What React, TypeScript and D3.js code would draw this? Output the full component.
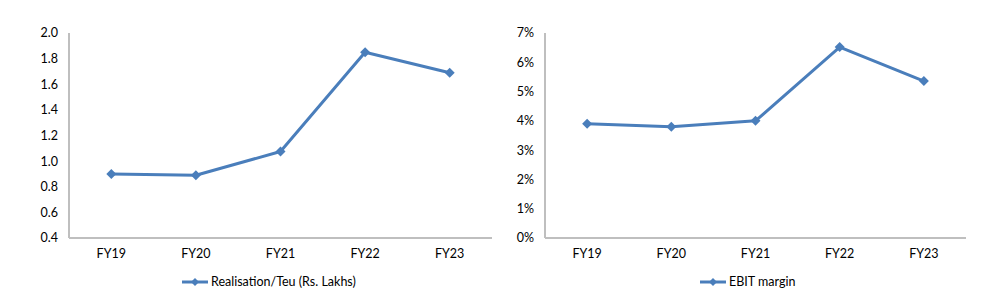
import React from "react";
import * as d3 from "d3";

const categories = ["FY19", "FY20", "FY21", "FY22", "FY23"];
const realisation = [0.9, 0.89, 1.075, 1.85, 1.69];
const ebitMargin = [0.039, 0.038, 0.04, 0.0652, 0.0536];
const leftTicks = [0.4, 0.6, 0.8, 1.0, 1.2, 1.4, 1.6, 1.8, 2.0];
const rightTicks = [0, 0.01, 0.02, 0.03, 0.04, 0.05, 0.06, 0.07];

const FONT = "Lato, 'Open Sans', sans-serif";
const FS = 12.5;
const LINE = "#4a7ebb";
const AXIS = "#bfbfbf";

type PanelProps = {
  x0: number;
  x1: number;
  values: number[];
  ticks: number[];
  domain: [number, number];
  fmt: (v: number) => string;
  legend: string;
  legendX: number;
};

function Panel({ x0, x1, values, ticks, domain, fmt, legend, legendX }: PanelProps) {
  const top = 33;
  const bottom = 238;
  const x = d3.scaleBand<string>().domain(categories).range([x0, x1]);
  const y = d3.scaleLinear().domain(domain).range([bottom, top]);
  const line = d3
    .line<number>()
    .x((_, i) => (x(categories[i]) as number) + x.bandwidth() / 2)
    .y((d) => y(d));
  const diamond = (cx: number, cy: number, r: number) =>
    `M${cx},${cy - r}L${cx + r},${cy}L${cx},${cy + r}L${cx - r},${cy}Z`;
  return (
    <g>
      <line x1={x0} x2={x0} y1={top} y2={bottom} stroke={AXIS} strokeWidth={2} />
      <line x1={x0} x2={x1} y1={bottom} y2={bottom} stroke={AXIS} strokeWidth={2} />
      {ticks.map((t) => (
        <text
          key={t}
          x={x0 - 11}
          y={y(t)}
          dy="0.35em"
          textAnchor="end"
          fontSize={FS}
          fontFamily={FONT}
          fill="#000"
        >
          {fmt(t)}
        </text>
      ))}
      {categories.map((c) => (
        <text
          key={c}
          x={(x(c) as number) + x.bandwidth() / 2}
          y={254}
          dy="0.35em"
          textAnchor="middle"
          fontSize={FS}
          fontFamily={FONT}
          fill="#000"
        >
          {c}
        </text>
      ))}
      <path d={line(values) || ""} fill="none" stroke={LINE} strokeWidth={3} strokeLinejoin="round" />
      {values.map((v, i) => (
        <path
          key={i}
          d={diamond((x(categories[i]) as number) + x.bandwidth() / 2, y(v), 5)}
          fill={LINE}
        />
      ))}
      <line x1={legendX} x2={legendX + 26} y1={282} y2={282} stroke={LINE} strokeWidth={3} />
      <path d={diamond(legendX + 13, 282, 4)} fill={LINE} />
      <text x={legendX + 29} y={282} dy="0.35em" fontSize={FS} fontFamily={FONT} fill="#000">
        {legend}
      </text>
    </g>
  );
}

export default function App() {
  return (
    <svg
      width={1007}
      height={302}
      style={{ position: "absolute", left: 0, top: 0, background: "#fff" }}
    >
      <rect width={1007} height={302} fill="#fff" />
      <Panel
        x0={69}
        x1={492}
        values={realisation}
        ticks={leftTicks}
        domain={[0.4, 2.0]}
        fmt={(v) => v.toFixed(1)}
        legend="Realisation/Teu (Rs. Lakhs)"
        legendX={182}
      />
      <Panel
        x0={545}
        x1={966}
        values={ebitMargin}
        ticks={rightTicks}
        domain={[0, 0.07]}
        fmt={(v) => `${Math.round(v * 100)}%`}
        legend="EBIT margin"
        legendX={700}
      />
    </svg>
  );
}
